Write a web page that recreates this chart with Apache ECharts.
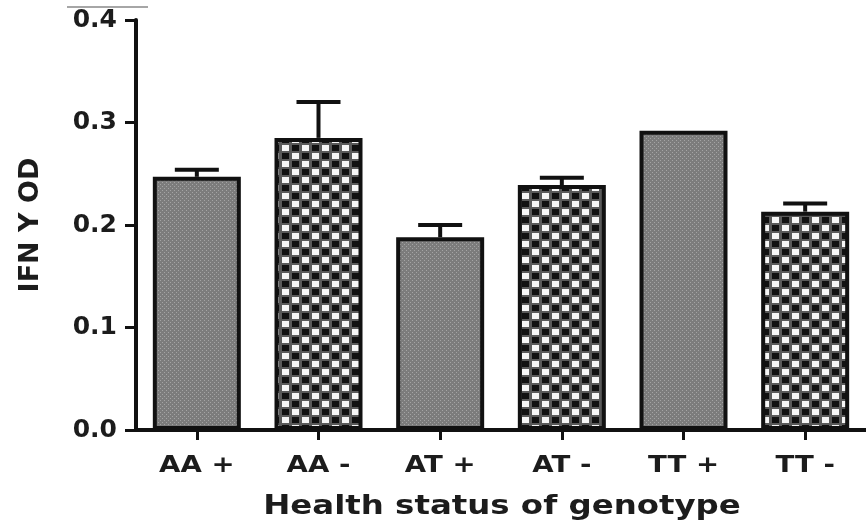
<!DOCTYPE html>
<html>
<head>
<meta charset="utf-8">
<script src="https://cdn.jsdelivr.net/npm/echarts@6/dist/echarts.min.js"></script>
<style>html,body{margin:0;padding:0;background:#fff}#c{width:866px;height:527px}</style>
</head>
<body>
<div id="c"></div>
<script>
const categories = ['AA +', 'AA -', 'AT +', 'AT -', 'TT +', 'TT -'];
const meanValues = [0.247, 0.285, 0.188, 0.239, 0.292, 0.213];
const errorTops = [0.254, 0.320, 0.200, 0.246, 0.292, 0.221];
const patternKinds = ['gray', 'check', 'gray', 'check', 'gray', 'check'];
const yTicks = [0, 0.1, 0.2, 0.3, 0.4];
const xTitle = 'Health status of genotype';
const yTitle = 'IFN Y OD';

function makeCheck() {
  const c = document.createElement('canvas');
  c.width = 20; c.height = 16;
  const g = c.getContext('2d');
  g.fillStyle = '#5a5a5a'; g.fillRect(0, 0, 20, 16);
  g.fillStyle = '#f6f6f6';
  g.fillRect(2, 1, 7, 6);
  g.fillRect(12, 9, 7, 6);
  g.fillStyle = '#111';
  g.fillRect(12, 1, 7, 6);
  g.fillRect(2, 9, 7, 6);
  return c;
}
function makeGray() {
  const c = document.createElement('canvas');
  c.width = 4; c.height = 4;
  const g = c.getContext('2d');
  g.fillStyle = '#7c7c7c'; g.fillRect(0, 0, 4, 4);
  g.fillStyle = '#a4a4a4';
  g.fillRect(0, 0, 1, 1);
  g.fillRect(2, 2, 1, 1);
  return c;
}
const patterns = { check: makeCheck(), gray: makeGray() };

const chart = echarts.init(document.getElementById('c'));
const font = '"DejaVu Sans", "Liberation Sans", Arial, sans-serif';
const textColor = '#1c1c1c';
chart.setOption({
  animation: false,
  grid: { left: 136, right: -4, top: 20, bottom: 97 },
  xAxis: {
    type: 'category',
    data: categories,
    axisLine: { lineStyle: { color: '#111', width: 4 } },
    axisTick: { show: true, alignWithLabel: true, length: 10, lineStyle: { color: '#111', width: 3 } },
    axisLabel: { show: false }
  },
  yAxis: {
    type: 'value',
    min: 0, max: 0.4, interval: 0.1,
    name: yTitle,
    nameLocation: 'middle',
    nameGap: 92,
    nameTextStyle: { fontFamily: font, fontWeight: 'bold', fontSize: 27, color: textColor },
    axisLine: { show: true, lineStyle: { color: '#111', width: 4 } },
    axisTick: { show: true, length: 11, lineStyle: { color: '#111', width: 3 } },
    splitLine: { show: false },
    axisLabel: {
      fontFamily: font, fontWeight: 'bold', fontSize: 25, color: textColor, margin: 19,
      formatter: v => { const t = yTicks.find(x => Math.abs(x - v) < 1e-9); return (t !== undefined ? t : v).toFixed(1); }
    }
  },
  graphic: [
    { type: 'line', shape: { x1: 67, y1: 7, x2: 148, y2: 7 }, style: { stroke: '#888', lineWidth: 1.5 } },
    { type: 'text', x: 502, y: 507, scaleX: 1.2,
      style: { text: xTitle, x: 0, y: 0, align: 'center', verticalAlign: 'middle',
               font: 'bold 27px ' + font, fill: textColor } }
  ],
  series: [
    {
      type: 'bar',
      barWidth: 88,
      z: 2,
      data: meanValues.map((v, i) => ({
        value: v,
        itemStyle: {
          color: { image: patterns[patternKinds[i]], repeat: 'repeat' },
          borderColor: '#111', borderWidth: 4
        }
      }))
    },
    {
      type: 'custom',
      z: 3,
      data: errorTops.map((e, i) => [i, meanValues[i], e]),
      renderItem: (params, api) => {
        const x = api.value(0);
        const p0 = api.coord([x, api.value(1)]);
        const p1 = api.coord([x, api.value(2)]);
        if (Math.abs(p0[1] - p1[1]) < 1) return { type: 'group', children: [] };
        const half = 22;
        return {
          type: 'group',
          children: [
            { type: 'line', shape: { x1: p0[0], y1: p0[1], x2: p1[0], y2: p1[1] }, style: { stroke: '#111', lineWidth: 4 } },
            { type: 'line', shape: { x1: p1[0] - half, y1: p1[1], x2: p1[0] + half, y2: p1[1] }, style: { stroke: '#111', lineWidth: 4 } }
          ]
        };
      }
    },
    {
      type: 'custom',
      z: 4,
      clip: false,
      data: categories.map((c, i) => [i, 0]),
      renderItem: (params, api) => {
        const i = api.value(0);
        const p = api.coord([i, 0]);
        return {
          type: 'text',
          x: p[0], y: p[1] + 36, scaleX: 1.2,
          style: { text: categories[i], x: 0, y: 0, align: 'center', verticalAlign: 'middle',
                   font: 'bold 23px ' + font, fill: textColor }
        };
      }
    }
  ]
});
</script>
</body>
</html>
